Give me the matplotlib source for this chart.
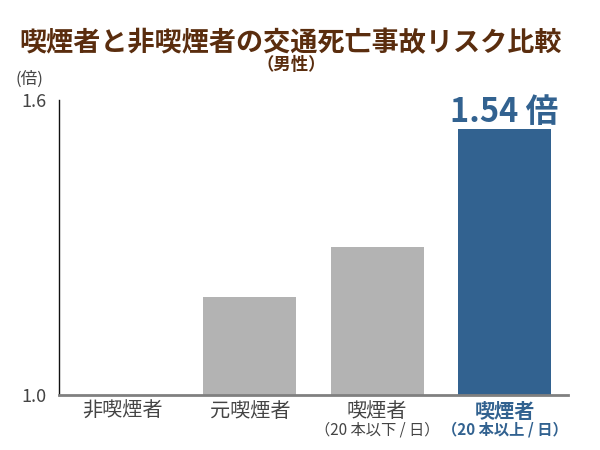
import matplotlib
matplotlib.use("Agg")
import matplotlib.pyplot as plt
from matplotlib.transforms import blended_transform_factory

plt.rcParams['font.family'] = ['Noto Sans CJK JP', 'DejaVu Sans']

categories = ["非喫煙者", "元喫煙者", "喫煙者", "喫煙者"]
sublabels = ["", "", "（20 本以下 / 日）", "（20 本以上 / 日）"]
values = [1.00, 1.20, 1.30, 1.54]
highlight = [False, False, False, True]
yticks = [1.0, 1.6]
ytick_labels = ["1.0", "1.6"]

gray = "#b3b3b3"
blue = "#326290"
brown = "#5a2d0e"
txt = "#444444"

fig = plt.figure(figsize=(6, 4.5), dpi=100)
ax = fig.add_axes([0.098, 0.122, 0.849, 0.656])

base = 1.0
xs = list(range(len(values)))
colors = [blue if h else gray for h in highlight]
ax.bar(xs, [v - base for v in values], bottom=base, width=0.73, color=colors)

ax.set_xlim(-0.5, 3.5)
ax.set_ylim(1.0, 1.6)
ax.set_yticks(yticks)
ax.set_yticklabels(ytick_labels, fontsize=13, color=txt)
ax.tick_params(axis='y', length=0, pad=9)
ax.set_xticks([])

for s in ["top", "right"]:
    ax.spines[s].set_visible(False)
ax.spines["left"].set_color("#111111")
ax.spines["left"].set_linewidth(1.0)
ax.spines["bottom"].set_color("#808080")
ax.spines["bottom"].set_linewidth(2.0)

tr = blended_transform_factory(ax.transData, ax.transAxes)
for x, cat, sub, h in zip(xs, categories, sublabels, highlight):
    c = blue if h else txt
    w = "bold" if h else "normal"
    ax.text(x, -0.02, cat, transform=tr, ha="center", va="top",
            fontsize=14.5, color=c, fontweight=w)
    if sub:
        ax.text(x, -0.088, sub, transform=tr, ha="center", va="top",
                fontsize=11, color=c, fontweight=w)

# value label for highlighted bar
for x, v, h in zip(xs, values, highlight):
    if h:
        ax.annotate(f"{v:.2f} 倍", (x, v), xytext=(0, 0), textcoords="offset points",
                    ha="center", va="bottom", fontsize=23.5, fontweight="bold", color=blue)

ax.text(-0.03, 1.04, "(倍)", transform=ax.transAxes, ha="right", va="bottom",
        fontsize=12, color=txt)

fig.text(0.485, 0.905, "喫煙者と非喫煙者の交通死亡事故リスク比較", ha="center", va="center",
         fontsize=19.5, fontweight="bold", color=brown)
fig.text(0.485, 0.855, "（男性）", ha="center", va="center",
         fontsize=12.5, fontweight="bold", color=brown)

fig.savefig("out.png", dpi=100)
